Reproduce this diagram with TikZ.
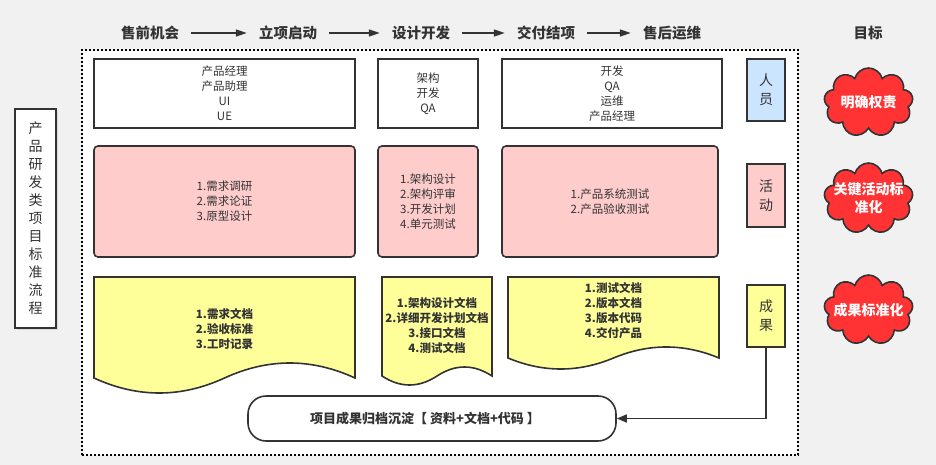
\documentclass[tikz,border=0pt]{standalone}
\usepackage{fontspec}
\setmainfont{Noto Sans CJK SC}
\usetikzlibrary{arrows.meta,shapes.symbols,shadows}
\definecolor{bg}{HTML}{F1F1F1}
\definecolor{ink}{HTML}{333333}
\definecolor{pblue}{HTML}{CCE5FF}
\definecolor{ppink}{HTML}{FFCCCC}
\definecolor{pyel}{HTML}{FFFF99}
\definecolor{cred}{HTML}{FF3333}
\newcommand\docpath[5]{%
  \draw[docbox] (#1,#3) -- (#2,#3) -- (#2,#4)
    .. controls ({#2-(#2-#1)/6},{#4-4*#5/3}) and ({#2-(#2-#1)/3},{#4-4*#5/3}) .. ({(#1+#2)/2},#4)
    .. controls ({(#1+#2)/2-(#2-#1)/6},{#4+4*#5/3}) and ({#1+(#2-#1)/6},{#4+4*#5/3}) .. (#1,#4) -- cycle;}
\begin{document}
\begin{tikzpicture}[x=1pt,y=-1pt,
  hdr/.style={font=\fontsize{14.5}{17}\selectfont\bfseries, text=ink, inner sep=0},
  flow/.style={draw=ink, line width=1.5pt, -{Triangle[length=11pt,width=7pt]}, shorten <=12pt, shorten >=12pt},
  whitebox/.style={draw=ink, line width=1.6pt, fill=white, inner sep=0},
  pinkbox/.style={draw=ink, line width=1.6pt, fill=ppink, rounded corners=4pt, inner sep=0},
  docbox/.style={draw=ink, line width=1.6pt, fill=pyel},
  body/.style={font=\fontsize{11.5}{15}\selectfont, text=ink, align=center, inner sep=0},
  bbody/.style={font=\fontsize{11.5}{15}\selectfont\bfseries, text=ink, align=center, inner sep=0},
  tag/.style={draw=ink, line width=1.6pt, font=\fontsize{14}{19}\selectfont, text=ink, align=center, inner sep=0, minimum width=38pt},
  goal/.style={cloud, cloud puffs=9, cloud ignores aspect, draw=ink, line width=1.6pt, fill=cred, inner sep=0, minimum width=89pt},
  goaltxt/.style={text=white, font=\fontsize{14}{18}\selectfont\bfseries, align=center, inner sep=0},
  link/.style={draw=ink, line width=1.5pt, -{Triangle[length=10pt,width=8pt]}}
]
\fill[bg] (0,0) rectangle (936,465);
\useasboundingbox (0,0) rectangle (936,465);

% headers
\node[hdr] (h1) at (150,33) {售前机会};
\node[hdr] (h2) at (288,33) {立项启动};
\node[hdr] (h3) at (421,33) {设计开发};
\node[hdr] (h4) at (546,33) {交付结项};
\node[hdr] (h5) at (672,33) {售后运维};
\node[hdr] (h6) at (868,33) {目标};
\draw[flow] (h1) -- (h2);
\draw[flow] (h2) -- (h3);
\draw[flow] (h3) -- (h4);
\draw[flow] (h4) -- (h5);

% frame
\node[draw=black, fill=white, line width=2pt, dash pattern=on 2pt off 2pt, inner sep=0,
      minimum width=716pt, minimum height=405pt] (frame) at (440,252.5) {};

% left title
\node[whitebox, minimum width=41pt, minimum height=219pt,
      drop shadow={opacity=0.2, shadow xshift=2pt, shadow yshift=-2pt},
      font=\fontsize{14}{18}\selectfont, text=ink, align=center] (side) at (35.5,218.5)
  {产\\品\\研\\发\\类\\项\\目\\标\\准\\流\\程};

% row 1: people
\node[whitebox, minimum width=261pt, minimum height=69pt] (p1) at (224.5,93.5) {};
\node[body] (p1t) at (p1) {产品经理\\产品助理\\UI\\UE};
\node[whitebox, minimum width=100pt, minimum height=69pt] (p2) at (428,93.5) {};
\node[body] (p2t) at (p2) {架构\\开发\\QA};
\node[whitebox, minimum width=220pt, minimum height=69pt] (p3) at (612,93.5) {};
\node[body] (p3t) at (p3) {开发\\QA\\运维\\产品经理};
\node[tag, fill=pblue, minimum height=62pt] (tp) at (766,90) {人\\员};

% row 2: activities
\node[pinkbox, minimum width=261pt, minimum height=111pt] (a1) at (224.5,201.5) {};
\node[body] (a1t) at (a1) {1.需求调研\\2.需求论证\\3.原型设计};
\node[pinkbox, minimum width=100pt, minimum height=111pt] (a2) at (428,201.5) {};
\node[body] (a2t) at (a2) {1.架构设计\\2.架构评审\\3.开发计划\\4.单元测试};
\node[pinkbox, minimum width=216pt, minimum height=111pt] (a3) at (610,201.5) {};
\node[body] (a3t) at (a3) {1.产品系统测试\\2.产品验收测试};
\node[tag, fill=ppink, minimum height=63pt] (ta) at (766,195.5) {活\\动};

% row 3: deliverables
\docpath{94}{355}{277}{378}{15}
\node[bbody] (d1) at (224.5,329) {1.需求文档\\2.验收标准\\3.工时记录};
\docpath{382}{492}{277}{376}{9}
\node[bbody] (d2) at (437,325.5) {1.架构设计文档\\2.详细开发计划文档\\3.接口文档\\4.测试文档};
\docpath{508}{719}{277}{358}{11}
\node[bbody] (d3) at (613.5,310.5) {1.测试文档\\2.版本文档\\3.版本代码\\4.交付产品};
\node[tag, fill=pyel, minimum height=62pt] (tc) at (766,316) {成\\果};

% archive pill
\node[whitebox, rounded corners=18pt, minimum width=368pt, minimum height=45pt] (pill) at (432,418.5) {};
\node[font=\fontsize{13}{16}\selectfont\bfseries, text=ink, inner sep=0] (pillt) at (425,418.5)
  {项目成果归档沉淀【 资料+文档+代码 】};
\draw[link] (tc.south) |- (pill.east);

% goals
\node[goal, minimum height=69pt] (g1) at (868.5,102.5) {};
\node[goaltxt] (g1t) at (g1) {明确权责};
\node[goal, minimum height=71pt] (g2) at (868.5,198.5) {};
\node[goaltxt] (g2t) at (g2) {关键活动标\\准化};
\node[goal, minimum height=70pt] (g3) at (868.5,310) {};
\node[goaltxt] (g3t) at (g3) {成果标准化};
\end{tikzpicture}
\end{document}
